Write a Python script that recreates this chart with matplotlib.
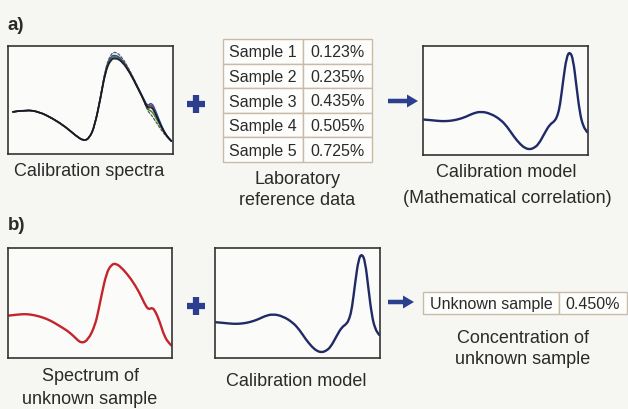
import matplotlib.pyplot as plt
from matplotlib.patches import FancyArrow, PathPatch, Rectangle
from matplotlib.path import Path

W, H = 628, 410
BG = "#f6f6f3"
INK = "#2a2a2a"
BLUE = "#2c3f8e"
GRID = "#c9bca6"
FONT = ["Liberation Sans", "DejaVu Sans"]

# calibration spectra (5 overlapping samples), box-normalised coordinates
cal_x = [0.03, 0.11, 0.19, 0.27, 0.35, 0.41, 0.46, 0.495, 0.525, 0.56, 0.59, 0.62,
         0.65, 0.69, 0.74, 0.78, 0.82, 0.845, 0.87, 0.895, 0.93, 0.96, 0.99]
cal_1 = [0.39, 0.41, 0.39, 0.33, 0.25, 0.17, 0.12, 0.15, 0.26, 0.51, 0.76, 0.87,
         0.89, 0.86, 0.75, 0.63, 0.51, 0.42, 0.44, 0.37, 0.25, 0.17, 0.12]
cal_2 = [0.39, 0.41, 0.39, 0.33, 0.25, 0.17, 0.12, 0.15, 0.26, 0.51, 0.77, 0.88,
         0.90, 0.87, 0.76, 0.63, 0.51, 0.43, 0.46, 0.38, 0.25, 0.17, 0.12]
cal_3 = [0.39, 0.41, 0.39, 0.33, 0.25, 0.17, 0.12, 0.15, 0.26, 0.51, 0.77, 0.88,
         0.91, 0.87, 0.75, 0.63, 0.51, 0.41, 0.40, 0.34, 0.24, 0.17, 0.12]
cal_4 = [0.39, 0.41, 0.39, 0.33, 0.25, 0.17, 0.12, 0.15, 0.26, 0.52, 0.78, 0.90,
         0.92, 0.88, 0.76, 0.64, 0.52, 0.44, 0.48, 0.40, 0.26, 0.17, 0.12]
cal_5 = [0.39, 0.41, 0.39, 0.33, 0.25, 0.17, 0.12, 0.15, 0.26, 0.52, 0.79, 0.92,
         0.95, 0.90, 0.77, 0.64, 0.51, 0.40, 0.36, 0.30, 0.22, 0.16, 0.12]
cal_colors = ["#8a8a8a", "#b03030", "#3d8a3d", "#2f4fa8", "#111111"]

# calibration model (mathematical correlation)
model_x = [0.006, 0.06, 0.11, 0.16, 0.21, 0.26, 0.30, 0.35, 0.41, 0.47, 0.51, 0.55,
           0.59, 0.62, 0.646, 0.67, 0.70, 0.737, 0.768, 0.798, 0.815, 0.83, 0.85,
           0.87, 0.89, 0.91, 0.93, 0.95, 0.97, 0.995]
model_y = [0.325, 0.318, 0.31, 0.312, 0.325, 0.35, 0.38, 0.40, 0.38, 0.325, 0.26, 0.17,
           0.097, 0.062, 0.052, 0.062, 0.097, 0.20, 0.28, 0.31, 0.36, 0.45, 0.69,
           0.90, 0.95, 0.88, 0.63, 0.39, 0.265, 0.21]

# spectrum of the unknown sample
unk_x = [0.006, 0.06, 0.11, 0.16, 0.21, 0.26, 0.31, 0.36, 0.40, 0.447, 0.49, 0.53,
         0.55, 0.57, 0.60, 0.63, 0.66, 0.70, 0.75, 0.80, 0.84, 0.86, 0.88, 0.90,
         0.925, 0.955, 0.985, 1.0]
unk_y = [0.386, 0.395, 0.40, 0.39, 0.37, 0.34, 0.295, 0.25, 0.20, 0.13, 0.167, 0.295,
         0.42, 0.57, 0.77, 0.85, 0.86, 0.81, 0.72, 0.60, 0.47, 0.44, 0.46, 0.42,
         0.33, 0.19, 0.13, 0.11]

samples = ["Sample 1", "Sample 2", "Sample 3", "Sample 4", "Sample 5"]
lab_values = ["0.123%", "0.235%", "0.435%", "0.505%", "0.725%"]
unknown_label = "Unknown sample"
unknown_value = "0.450%"

fig = plt.figure(figsize=(W / 100, H / 100), dpi=100, facecolor=BG)
canvas = fig.add_axes([0, 0, 1, 1])
canvas.set_xlim(0, W)
canvas.set_ylim(H, 0)
canvas.axis("off")


def spectrum_box(x, y, w, h):
    ax = fig.add_axes([x / W, 1 - (y + h) / H, w / W, h / H])
    ax.set_facecolor("#fbfbf9")
    ax.set_xlim(0, 1)
    ax.set_ylim(0, 1)
    ax.set_xticks([])
    ax.set_yticks([])
    for s in ax.spines.values():
        s.set_color("#333333")
        s.set_linewidth(1.2)
    return ax


def smooth_line(ax, xs, ys, **kw):
    # quadratic bezier through midpoints, read points act as control points
    pts = list(zip(xs, ys))
    verts = [pts[0]]
    codes = [Path.MOVETO]
    for i in range(1, len(pts) - 1):
        mid = ((pts[i][0] + pts[i + 1][0]) / 2, (pts[i][1] + pts[i + 1][1]) / 2)
        verts += [pts[i], mid]
        codes += [Path.CURVE3, Path.CURVE3]
    verts.append(pts[-1])
    codes.append(Path.LINETO)
    ax.add_patch(PathPatch(Path(verts, codes), fill=False, capstyle="round",
                           joinstyle="round", **kw))


def label(x, y, text, size=13, **kw):
    canvas.text(x, y, text, ha="center", va="center", fontsize=size,
                color=INK, family=FONT, **kw)


def plus(x, y):
    canvas.plot([x - 9, x + 9], [y, y], color=BLUE, lw=4.5, solid_capstyle="butt")
    canvas.plot([x, x], [y - 9, y + 9], color=BLUE, lw=4.5, solid_capstyle="butt")


def arrow(x0, x1, y):
    canvas.add_patch(FancyArrow(x0, y, x1 - x0, 0, width=4.5, head_width=13,
                                head_length=11, length_includes_head=True,
                                color=BLUE, lw=0))


def table(x0, xdiv, x1, y0, row_h, left, right, size=11.5):
    for i, (a, b) in enumerate(zip(left, right)):
        yy = y0 + i * row_h
        canvas.add_patch(Rectangle((x0, yy), xdiv - x0, row_h, fc="#fdfdfc",
                                   ec=GRID, lw=1.0))
        canvas.add_patch(Rectangle((xdiv, yy), x1 - xdiv, row_h, fc="#fdfdfc",
                                   ec=GRID, lw=1.0))
        label((x0 + xdiv) / 2, yy + row_h / 2 + 0.5, a, size=size)
        label((xdiv + x1) / 2, yy + row_h / 2 + 0.5, b, size=size)


# ---- a) ----
canvas.text(8, 25, "a)", ha="left", va="center", fontsize=13.5, fontweight="bold",
            color=INK, family=FONT)

ax = spectrum_box(8, 47, 165, 108)
for ys, c in zip([cal_2, cal_3, cal_4], cal_colors[1:4]):
    smooth_line(ax, cal_x, ys, edgecolor=c, lw=1.1)
smooth_line(ax, cal_x, cal_5, edgecolor="#555555", lw=0.9, linestyle=(0, (2, 1.5)))
smooth_line(ax, cal_x, cal_1, edgecolor=cal_colors[4], lw=1.3, alpha=0.85)
label(89, 172, "Calibration spectra")

plus(196, 105)
table(223, 303, 372, 40, 24.6, samples, lab_values)
label(297, 180, "Laboratory")
label(297, 201, "reference data")

arrow(388, 418, 102)
ax = spectrum_box(423, 47, 165, 109)
smooth_line(ax, model_x, model_y, edgecolor="#1f2a66", lw=1.7)
label(506, 173, "Calibration model")
label(507, 199, "(Mathematical correlation)")

# ---- b) ----
canvas.text(8, 226, "b)", ha="left", va="center", fontsize=13.5, fontweight="bold",
            color=INK, family=FONT)

ax = spectrum_box(8, 249, 164, 110)
smooth_line(ax, unk_x, unk_y, edgecolor="#c4252c", lw=1.7)
label(90, 377, "Spectrum of")
label(90, 400, "unknown sample")

plus(196, 307)
ax = spectrum_box(215, 249, 165, 110)
smooth_line(ax, model_x, model_y, edgecolor="#1f2a66", lw=1.7)
label(296, 382, "Calibration model")

arrow(388, 414, 303)
table(423, 559, 627, 293, 22, [unknown_label], [unknown_value])
label(523, 339, "Concentration of")
label(523, 360, "unknown sample")

fig.savefig("out.png", dpi=100, facecolor=BG)
